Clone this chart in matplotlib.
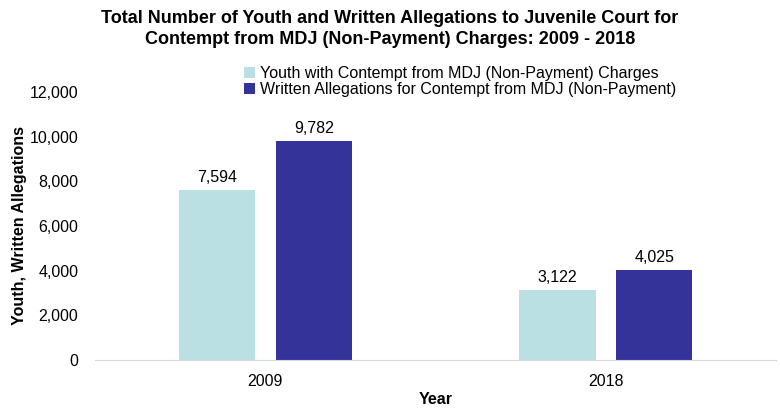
import matplotlib
matplotlib.use('Agg')
import matplotlib.pyplot as plt
import numpy as np

plt.rcParams['font.family'] = ['Liberation Sans', 'DejaVu Sans']

years = ['2009', '2018']
youth = [7594, 3122]
allegations = [9782, 4025]
series_names = ['Youth with Contempt from MDJ (Non-Payment) Charges',
                'Written Allegations for Contempt from MDJ (Non-Payment)']
light = '#bbe0e3'
dark = '#343399'

fig = plt.figure(figsize=(7.8, 4.12), dpi=100)
ax = fig.add_axes([0.122, 0.126, 0.873, 0.651])

x = np.arange(len(years))
w = 0.224
b1 = ax.bar(x - 0.142, youth, w, color=light, label=series_names[0])
b2 = ax.bar(x + 0.142, allegations, w, color=dark, label=series_names[1])

for bars in (b1, b2):
    for r in bars:
        ax.text(r.get_x() + r.get_width() / 2, r.get_height() + 250,
                f'{int(r.get_height()):,}', ha='center', va='bottom', fontsize=11.5)

ax.set_xlim(-0.5, 1.5)
ax.set_ylim(0, 12000)
ax.set_yticks(range(0, 12001, 2000))
ax.set_yticklabels([f'{v:,}' for v in range(0, 12001, 2000)])
ax.set_xticks(x)
ax.set_xticklabels(years)
ax.tick_params(axis='both', length=0, labelsize=11.5, pad=12)
ax.tick_params(axis='x', pad=10)

for s in ['top', 'right', 'left']:
    ax.spines[s].set_visible(False)
ax.spines['bottom'].set_color('#d9d9d9')

ax.set_xlabel('Year', fontsize=11.5, fontweight='bold', labelpad=2)
ax.set_ylabel('Youth, Written Allegations', fontsize=11.5, fontweight='bold', labelpad=2)

fig.suptitle('Total Number of Youth and Written Allegations to Juvenile Court for\n'
             'Contempt from MDJ (Non-Payment) Charges: 2009 - 2018',
             x=0.5, y=0.975, fontsize=13, fontweight='bold', linespacing=1.25,
             family=['Liberation Sans Narrow', 'Liberation Sans'])

fig.legend(handles=[b1, b2], loc='upper left', bbox_to_anchor=(0.305, 0.855),
           frameon=False, fontsize=11.5, handlelength=0.7, handleheight=0.7,
           handletextpad=0.3, labelspacing=0.05, borderaxespad=0)

fig.savefig('out.png', dpi=100)
